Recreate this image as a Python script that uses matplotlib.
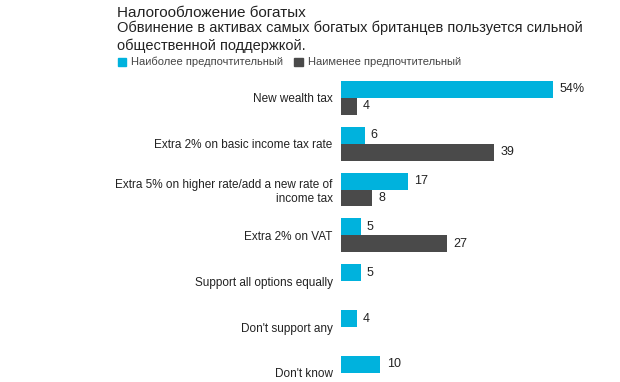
import matplotlib
matplotlib.use("Agg")
import matplotlib.pyplot as plt
from matplotlib.patches import Patch
import numpy as np

plt.rcParams['font.family'] = ['Liberation Sans', 'DejaVu Sans']

categories = ["New wealth tax",
              "Extra 2% on basic income tax rate",
              "Extra 5% on higher rate/add a new rate of\nincome tax",
              "Extra 2% on VAT",
              "Support all options equally",
              "Don't support any",
              "Don't know"]
most_preferred = [54, 6, 17, 5, 5, 4, 10]
least_preferred = [4, 39, 8, 27, None, None, None]
series_names = ["Наиболее предпочтительный", "Наименее предпочтительный"]
title = "Налогообложение богатых"
subtitle = "Обвинение в активах самых богатых британцев пользуется сильной\nобщественной поддержкой."

blue = "#00B2DD"
dark = "#4A4A4A"
txt = "#222222"

fig = plt.figure(figsize=(6.2, 3.82), dpi=100)
W, H = 620, 382
top_px, bot_px = 80, 382
ax = fig.add_axes([341 / W, 1 - bot_px / H, 1 - 341 / W, (bot_px - top_px) / H])

h = 0.37
y = np.arange(len(categories))
ax.barh(y - h / 2, most_preferred, height=h, color=blue)
ly = [yy for yy, v in zip(y, least_preferred) if v is not None]
lv = [v for v in least_preferred if v is not None]
ax.barh(np.array(ly) + h / 2, lv, height=h, color=dark)

for i, v in enumerate(most_preferred):
    lab = f"{v}%" if i == 0 else f"{v}"
    ax.text(v + 1.6, i - h / 2, lab, va='center', ha='left', fontsize=9, color=txt)
for yy, v in zip(ly, lv):
    ax.text(v + 1.6, yy + h / 2, f"{v}", va='center', ha='left', fontsize=9, color=txt)

ax.set_xlim(0, 71)
ax.set_ylim(6.2, -0.39)
ax.set_yticks(y)
ax.set_yticklabels(categories, fontsize=8.5, color=txt, ha='right')
ax.tick_params(axis='y', length=0, pad=6)
ax.set_xticks([])
for s in ax.spines.values():
    s.set_visible(False)

fig.text(117 / W, 1 - 6 / H, title, fontsize=11, color=txt, va='top', ha='left')
fig.text(117 / W, 1 - 21 / H, subtitle, fontsize=10.5, color=txt, va='top', ha='left',
         linespacing=1.25)

handles = [Patch(color=blue), Patch(color=dark)]
fig.legend(handles, series_names, loc='upper left', bbox_to_anchor=(118 / W, 1 - 57 / H),
           ncol=2, frameon=False, fontsize=8, handlelength=0.75, handleheight=0.75,
           handletextpad=0.45, columnspacing=1.0, labelcolor="#444444", borderaxespad=0,
           borderpad=0)

fig.savefig("out.png", dpi=100)
